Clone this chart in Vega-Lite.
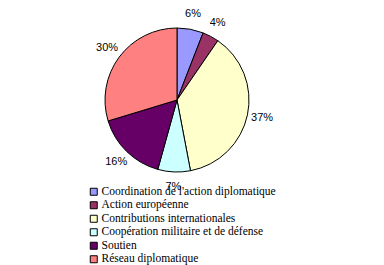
{
  "$schema": "https://vega.github.io/schema/vega-lite/v6.json",
  "width": 354,
  "height": 200,
  "padding": 0,
  "autosize": {"type": "pad"},
  "background": "white",
  "data": {
    "values": [
      {"k": 1, "cat": "Coordination de l'action diplomatique", "v": 5.9, "label": "6%"},
      {"k": 2, "cat": "Action européenne", "v": 3.7, "label": "4%"},
      {"k": 3, "cat": "Contributions internationales", "v": 37.4, "label": "37%"},
      {"k": 4, "cat": "Coopération militaire et de défense", "v": 7.3, "label": "7%"},
      {"k": 5, "cat": "Soutien", "v": 16.0, "label": "16%"},
      {"k": 6, "cat": "Réseau diplomatique", "v": 29.7, "label": "30%"}
    ]
  },
  "encoding": {
    "theta": {"field": "v", "type": "quantitative", "stack": true},
    "order": {"field": "k", "type": "quantitative"}
  },
  "layer": [
    {
      "mark": {"type": "arc", "outerRadius": 72, "stroke": "black", "strokeWidth": 1},
      "encoding": {
        "color": {
          "field": "cat",
          "type": "nominal",
          "sort": null,
          "scale": {
            "domain": ["Coordination de l'action diplomatique", "Action européenne", "Contributions internationales", "Coopération militaire et de défense", "Soutien", "Réseau diplomatique"],
            "range": ["#9999FF", "#993366", "#FFFFCC", "#CCFFFF", "#660066", "#FF8080"]
          },
          "legend": {
            "title": null,
            "orient": "none",
            "legendX": 88,
            "legendY": 186,
            "padding": 0,
            "symbolType": "square",
            "symbolSize": 49,
            "symbolStrokeColor": "black",
            "symbolStrokeWidth": 1,
            "labelFont": "Liberation Serif, DejaVu Serif, serif",
            "labelFontSize": 11.5,
            "labelColor": "black",
            "labelOffset": 2,
            "rowPadding": 0.5,
            "labelLimit": 300
          }
        }
      }
    },
    {
      "mark": {"type": "text", "radius": 87, "font": "Liberation Sans", "fontSize": 11, "color": "black", "align": "center", "baseline": "middle"},
      "encoding": {
        "text": {"field": "label", "type": "nominal"}
      }
    }
  ]
}
